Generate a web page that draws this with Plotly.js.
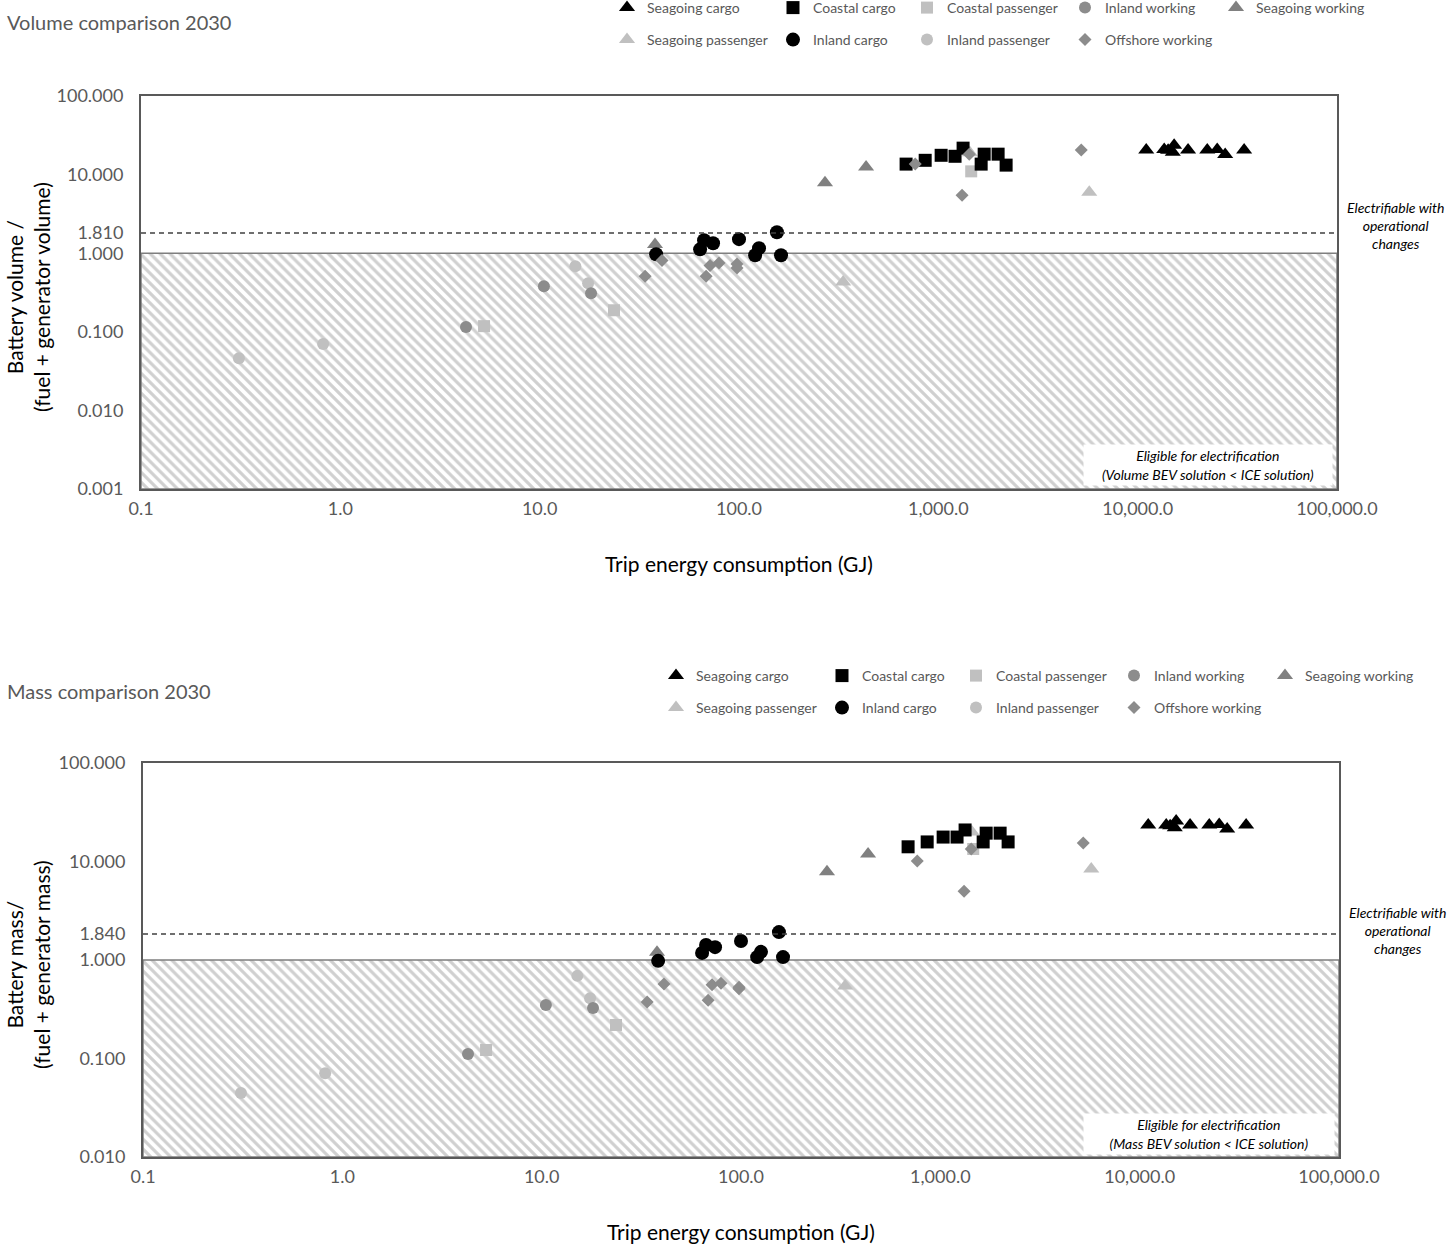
<!DOCTYPE html>
<html>
<head>
<meta charset="utf-8">
<script src="https://cdn.plot.ly/plotly-3.0.1.min.js"></script>
<style>
  html, body { margin: 0; padding: 0; background: #ffffff; }
  #chart { width: 1449px; height: 1244px; }
</style>
</head>
<body>
<div id="chart"></div>
<script>
// Trip energy consumption (GJ) per vessel and the battery / (fuel + generator) ratios,
// one set of arrays per vessel segment.
const seagoingCargoEnergy = [11040, 13590, 14220, 15240, 15000, 17900, 22340, 25060, 27480, 34200];
const seagoingCargoVolume = [20.6, 20.8, 20.4, 23.6, 19.3, 20.6, 20.6, 20.9, 18.0, 20.6];
const seagoingCargoMass   = [23.5, 23.5, 23.0, 25.8, 22.0, 23.5, 23.5, 23.8, 21.4, 23.5];

const coastalCargoEnergy = [689, 859, 1033, 1213, 1331, 1698, 1640, 1995, 2188];
const coastalCargoVolume = [13.6, 15.2, 17.6, 17.1, 21.7, 18.2, 13.6, 18.2, 13.2];
const coastalCargoMass   = [14.1, 15.8, 17.7, 17.7, 20.9, 19.4, 15.8, 19.4, 15.8];

const coastalPassengerEnergy = [5.26, 23.6, 1462];
const coastalPassengerVolume = [0.118, 0.188, 11.0];
const coastalPassengerMass   = [0.122, 0.219, 13.4];

const inlandWorkingEnergy = [4.27, 10.5, 18.1];
const inlandWorkingVolume = [0.115, 0.38, 0.31];
const inlandWorkingMass   = [0.111, 0.35, 0.326];

const seagoingWorkingEnergy = [37.9, 270, 434];
const seagoingWorkingVolume = [1.29, 7.9, 12.5];
const seagoingWorkingMass   = [1.20, 7.87, 11.9];

const seagoingPassengerEnergy = [333, 5716, 1440];
const seagoingPassengerVolume = [0.43, 5.97, 19.0];
const seagoingPassengerMass   = [0.545, 8.4, 19.9];

const inlandCargoEnergy = [38.4, 63.8, 66.8, 74.1, 100, 126, 120.5, 155, 162.5];
const inlandCargoVolume = [0.97, 1.12, 1.46, 1.34, 1.51, 1.16, 0.94, 1.85, 0.94];
const inlandCargoMass   = [0.98, 1.18, 1.42, 1.35, 1.56, 1.21, 1.07, 1.92, 1.07];

const inlandPassengerEnergy = [0.31, 0.82, 15.1, 17.5];
const inlandPassengerVolume = [0.046, 0.070, 0.68, 0.415];
const inlandPassengerMass   = [0.0447, 0.071, 0.69, 0.41];

const offshoreWorkingEnergy = [33.8, 41.1, 68.4, 71.6, 79.4, 97.7, 97.7, 766, 1429, 1315, 5212];
const offshoreWorkingVolume = [0.51, 0.81, 0.51, 0.70, 0.75, 0.73, 0.65, 13.6, 18.2, 5.47, 20.5];
const offshoreWorkingMass   = [0.375, 0.57, 0.39, 0.56, 0.58, 0.53, 0.51, 10.1, 13.4, 5.0, 15.4];

// Thresholds
const parityRatio = 1;
const volumeOperationalLimit = 1.81;
const massOperationalLimit = 1.84;

// Axis ticks
const energyTickValues = [0.1, 1, 10, 100, 1000, 10000, 100000];
const energyTickLabels = ['0.1', '1.0', '10.0', '100.0', '1,000.0', '10,000.0', '100,000.0'];
const volumeTickValues = [0.001, 0.01, 0.1, 1, 1.81, 10, 100];
const volumeTickLabels = ['0.001', '0.010', '0.100', '1.000', '1.810', '10.000', '100.000'];
const massTickValues = [0.01, 0.1, 1, 1.84, 10, 100];
const massTickLabels = ['0.010', '0.100', '1.000', '1.840', '10.000', '100.000'];

const energyRange = [-1, 5];
const volumeRange = [-3, 2];
const massRange = [-2, 2];

// Segment styling; listed in drawing order (later ones sit on top).
// row / rank place each entry in the two-row legend, colWidth sets its column width.
const segments = [
  { name: 'Inland passenger',   x: inlandPassengerEnergy,   vol: inlandPassengerVolume,   mass: inlandPassengerMass,   symbol: 'circle',      color: '#c0c0c0', size: 12, row: 2, rank: 3, colWidth: 113 },
  { name: 'Seagoing passenger', x: seagoingPassengerEnergy, vol: seagoingPassengerVolume, mass: seagoingPassengerMass, symbol: 'triangle-up', color: '#c0c0c0', size: 14, row: 2, rank: 1, colWidth: 121 },
  { name: 'Coastal passenger',  x: coastalPassengerEnergy,  vol: coastalPassengerVolume,  mass: coastalPassengerMass,  symbol: 'square',      color: '#c0c0c0', size: 12, row: 1, rank: 3, colWidth: 113 },
  { name: 'Inland working',     x: inlandWorkingEnergy,     vol: inlandWorkingVolume,     mass: inlandWorkingMass,     symbol: 'circle',      color: '#8c8c8c', size: 12, row: 1, rank: 4, colWidth: 106 },
  { name: 'Seagoing working',   x: seagoingWorkingEnergy,   vol: seagoingWorkingVolume,   mass: seagoingWorkingMass,   symbol: 'triangle-up', color: '#808080', size: 14, row: 1, rank: 5, colWidth: 0 },
  { name: 'Seagoing cargo',     x: seagoingCargoEnergy,     vol: seagoingCargoVolume,     mass: seagoingCargoMass,     symbol: 'triangle-up', color: '#000000', size: 14, row: 1, rank: 1, colWidth: 121 },
  { name: 'Coastal cargo',      x: coastalCargoEnergy,      vol: coastalCargoVolume,      mass: coastalCargoMass,      symbol: 'square',      color: '#000000', size: 13, row: 1, rank: 2, colWidth: 89 },
  { name: 'Inland cargo',       x: inlandCargoEnergy,       vol: inlandCargoVolume,       mass: inlandCargoMass,       symbol: 'circle',      color: '#000000', size: 14, row: 2, rank: 2, colWidth: 89 },
  { name: 'Offshore working',   x: offshoreWorkingEnergy,   vol: offshoreWorkingVolume,   mass: offshoreWorkingMass,   symbol: 'diamond',     color: '#8c8c8c', size: 10, row: 2, rank: 4, colWidth: 0 }
];

const FONT = 'Lato, "Open Sans", sans-serif';
const GREY = '#595959';
const W = 1449, H = 1244;

// Hatched "eligible" band below the parity ratio
function eligibleBand(xa, ya, yMinExp) {
  const x0 = Math.pow(10, energyRange[0]), x1 = Math.pow(10, energyRange[1]);
  const y0 = Math.pow(10, yMinExp);
  return {
    type: 'scatter', mode: 'lines', xaxis: xa, yaxis: ya,
    x: [x0, x1, x1, x0, x0], y: [y0, y0, parityRatio, parityRatio, y0],
    fill: 'toself', fillcolor: '#ffffff',
    fillpattern: { shape: '\\', fgcolor: '#d0d0d0', bgcolor: '#ffffff', size: 7, solidity: 0.45 },
    line: { color: '#7f7f7f', width: 1.5 },
    showlegend: false, hoverinfo: 'skip'
  };
}

const traces = [eligibleBand('x', 'y', volumeRange[0]), eligibleBand('x2', 'y2', massRange[0])];

segments.forEach(s => {
  const common = {
    type: 'scatter', mode: 'markers', name: s.name,
    marker: { symbol: s.symbol, color: s.color, size: s.size, line: { width: 0 } },
    legendrank: s.rank, hoverinfo: 'x+y+name'
  };
  if (s.colWidth) common.legendwidth = s.colWidth;
  traces.push(Object.assign({}, common, {
    x: s.x, y: s.vol, xaxis: 'x', yaxis: 'y',
    legend: s.row === 1 ? 'legend' : 'legend2'
  }));
  traces.push(Object.assign({}, common, {
    x: s.x, y: s.mass, xaxis: 'x2', yaxis: 'y2',
    legend: s.row === 1 ? 'legend3' : 'legend4'
  }));
});

function energyAxis(domainPx, anchor) {
  return {
    type: 'log', range: energyRange, domain: [domainPx[0] / W, domainPx[1] / W], anchor: anchor,
    tickmode: 'array', tickvals: energyTickValues, ticktext: energyTickLabels,
    showline: true, mirror: true, linecolor: GREY, linewidth: 2,
    showgrid: false, zeroline: false, ticks: '', ticklabelstandoff: 2,
    tickfont: { family: FONT, size: 18, color: GREY }, fixedrange: true, automargin: false
  };
}
function ratioAxis(domainPx, anchor, range, vals, labels) {
  return {
    type: 'log', range: range, domain: [1 - domainPx[1] / H, 1 - domainPx[0] / H], anchor: anchor,
    tickmode: 'array', tickvals: vals, ticktext: labels,
    showline: true, mirror: true, linecolor: GREY, linewidth: 2,
    showgrid: false, zeroline: false, ticks: '', ticklabelstandoff: 12,
    tickfont: { family: FONT, size: 18, color: GREY }, fixedrange: true, automargin: false
  };
}
function legendRow(xPx, yPx) {
  return {
    orientation: 'h', x: xPx / W, y: 1 - yPx / H, xanchor: 'left', yanchor: 'middle',
    font: { family: FONT, size: 14, color: GREY }, bgcolor: 'rgba(0,0,0,0)',
    borderwidth: 0, traceorder: 'normal', itemclick: false, itemdoubleclick: false
  };
}

const italic = t => '<i>' + t + '</i>';

const layout = {
  width: W, height: H,
  margin: { l: 0, r: 0, t: 0, b: 0, autoexpand: false },
  paper_bgcolor: '#ffffff', plot_bgcolor: '#ffffff',
  font: { family: FONT, color: GREY },
  showlegend: true,
  xaxis: energyAxis([141, 1337], 'y'),
  yaxis: ratioAxis([96, 489], 'x', volumeRange, volumeTickValues, volumeTickLabels),
  xaxis2: energyAxis([143, 1339], 'y2'),
  yaxis2: ratioAxis([763, 1157], 'x2', massRange, massTickValues, massTickLabels),
  legend: legendRow(607, 8),
  legend2: legendRow(607, 40),
  legend3: legendRow(656, 676),
  legend4: legendRow(656, 708),
  shapes: [
    { type: 'line', xref: 'x domain', yref: 'y', x0: 0, x1: 1, y0: volumeOperationalLimit, y1: volumeOperationalLimit,
      line: { color: '#404040', width: 1.5, dash: '5px,4px' }, layer: 'above' },
    { type: 'line', xref: 'x2 domain', yref: 'y2', x0: 0, x1: 1, y0: massOperationalLimit, y1: massOperationalLimit,
      line: { color: '#404040', width: 1.5, dash: '5px,4px' }, layer: 'above' }
  ],
  annotations: [
    // panel titles
    { text: 'Volume comparison 2030', xref: 'paper', yref: 'paper', x: 5 / W, y: 1 - 22 / H,
      xanchor: 'left', yanchor: 'middle', showarrow: false, font: { family: FONT, size: 20, color: GREY } },
    { text: 'Mass comparison 2030', xref: 'paper', yref: 'paper', x: 5 / W, y: 1 - 691 / H,
      xanchor: 'left', yanchor: 'middle', showarrow: false, font: { family: FONT, size: 20, color: GREY } },
    // axis titles
    { text: 'Trip energy consumption (GJ)', xref: 'x domain', yref: 'y domain', x: 0.5, y: -(563 - 489) / 393,
      xanchor: 'center', yanchor: 'middle', showarrow: false, font: { family: FONT, size: 21, color: '#000000' } },
    { text: 'Trip energy consumption (GJ)', xref: 'x2 domain', yref: 'y2 domain', x: 0.5, y: -(1231 - 1157) / 394,
      xanchor: 'center', yanchor: 'middle', showarrow: false, font: { family: FONT, size: 21, color: '#000000' } },
    { text: 'Battery volume /<br>(fuel + generator volume)', xref: 'paper', yref: 'paper', x: 28 / W, y: 1 - 297 / H,
      xanchor: 'center', yanchor: 'middle', textangle: -90, showarrow: false, font: { family: FONT, size: 21, color: '#000000' } },
    { text: 'Battery mass/<br>(fuel + generator mass)', xref: 'paper', yref: 'paper', x: 28 / W, y: 1 - 965 / H,
      xanchor: 'center', yanchor: 'middle', textangle: -90, showarrow: false, font: { family: FONT, size: 21, color: '#000000' } },
    // eligibility boxes
    { text: italic('Eligible for electrification') + '<br>' + italic('(Volume BEV solution &lt; ICE solution)'),
      xref: 'paper', yref: 'paper', x: 1333 / W, y: 1 - 486 / H, xanchor: 'right', yanchor: 'bottom',
      width: 248, height: 40, bgcolor: '#ffffff', borderpad: 0, align: 'center', showarrow: false,
      font: { family: FONT, size: 14, color: '#000000' } },
    { text: italic('Eligible for electrification') + '<br>' + italic('(Mass BEV solution &lt; ICE solution)'),
      xref: 'paper', yref: 'paper', x: 1335 / W, y: 1 - 1155 / H, xanchor: 'right', yanchor: 'bottom',
      width: 250, height: 40, bgcolor: '#ffffff', borderpad: 0, align: 'center', showarrow: false,
      font: { family: FONT, size: 14, color: '#000000' } },
    // operational-changes labels
    { text: italic('Electrifiable with') + '<br>' + italic('operational') + '<br>' + italic('changes'),
      xref: 'paper', yref: 'paper', x: 1395 / W, y: 1 - 225 / H, xanchor: 'center', yanchor: 'middle',
      align: 'center', showarrow: false, font: { family: FONT, size: 14, color: '#000000' } },
    { text: italic('Electrifiable with') + '<br>' + italic('operational') + '<br>' + italic('changes'),
      xref: 'paper', yref: 'paper', x: 1397 / W, y: 1 - 930 / H, xanchor: 'center', yanchor: 'middle',
      align: 'center', showarrow: false, font: { family: FONT, size: 14, color: '#000000' } }
  ]
};

Plotly.newPlot('chart', traces, layout, { displayModeBar: false, staticPlot: true });
</script>
</body>
</html>
